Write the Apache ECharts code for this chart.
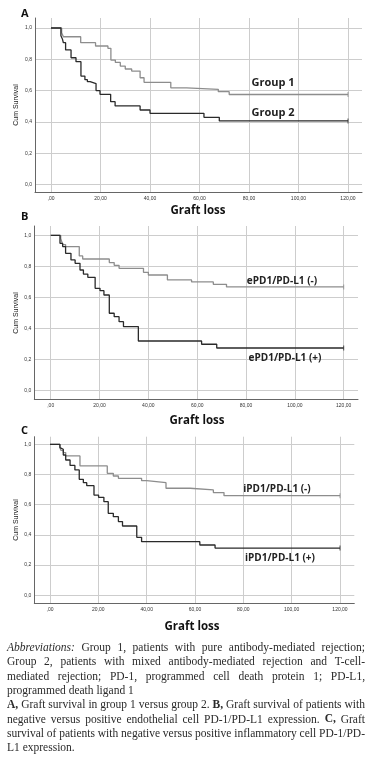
<!DOCTYPE html>
<html><head><meta charset="utf-8">
<script src="https://cdn.jsdelivr.net/npm/echarts@6/dist/echarts.min.js"></script>
<style>html,body{margin:0;padding:0;background:#fff}#c{width:374px;height:761px}</style>
</head><body><div id="c"></div>
<script>
// ---- tick labels ----
const xTicks = [0, 20, 40, 60, 80, 100, 120];
const xTickLabels = [',00', '20,00', '40,00', '60,00', '80,00', '100,00', '120,00'];
const yTicks = [0, 0.2, 0.4, 0.6, 0.8, 1.0];
const yTickLabels = ['0,0', '0,2', '0,4', '0,6', '0,8', '1,0'];

// ---- Panel A ----
const group1Time = [0, 4.3, 5, 12, 18, 23, 24.2, 26, 28, 30, 32.6, 36, 37.6, 48.4, 54.8, 67.6, 72, 120];
const group1Surv = [1, 0.97, 0.944, 0.906, 0.885, 0.87, 0.795, 0.78, 0.757, 0.738, 0.725, 0.682, 0.653, 0.618, 0.608, 0.593, 0.575, 0.575];
const group2Time = [0, 4, 4.6, 5, 5.9, 8.1, 10.1, 12.1, 13.7, 14.7, 15.8, 18.2, 19.8, 24.1, 25.9, 36, 40, 61.8, 68, 120];
const group2Surv = [1, 0.95, 0.93, 0.906, 0.86, 0.81, 0.785, 0.693, 0.67, 0.657, 0.645, 0.6, 0.576, 0.529, 0.502, 0.476, 0.455, 0.429, 0.406, 0.406];

// ---- Panel B ----
const eNegTime = [0, 4.1, 4.9, 6.1, 11.7, 13.1, 24, 26, 28, 38, 40, 47.8, 57.7, 66.6, 72, 120];
const eNegSurv = [1, 0.98, 0.94, 0.927, 0.867, 0.847, 0.824, 0.806, 0.787, 0.761, 0.744, 0.712, 0.699, 0.684, 0.667, 0.667];
const ePosTime = [0, 3.8, 4.9, 6.1, 8.3, 10, 12, 13.4, 15.2, 18.2, 20.2, 21.8, 24, 26, 28, 29.8, 35.9, 61.8, 68, 120];
const ePosSurv = [1, 0.948, 0.927, 0.884, 0.841, 0.819, 0.776, 0.75, 0.729, 0.658, 0.643, 0.615, 0.497, 0.475, 0.443, 0.411, 0.318, 0.297, 0.273, 0.273];

// ---- Panel C ----
const iNegTime = [0, 4.1, 4.5, 5.5, 6.5, 12.4, 23.7, 26.2, 28.3, 37.9, 40, 48, 58, 67.6, 72, 120];
const iNegSurv = [1, 0.978, 0.96, 0.945, 0.923, 0.857, 0.808, 0.79, 0.775, 0.759, 0.746, 0.709, 0.698, 0.68, 0.66, 0.66];
const iPosTime = [0, 4.1, 4.8, 5.5, 6.5, 8.3, 10.3, 12.1, 13.8, 15.2, 18.2, 20.1, 22.3, 24.1, 26.2, 28.3, 30, 35.9, 37.9, 62, 68.3, 120];
const iPosSurv = [1, 0.978, 0.967, 0.929, 0.896, 0.86, 0.83, 0.768, 0.746, 0.726, 0.664, 0.649, 0.62, 0.543, 0.521, 0.488, 0.459, 0.384, 0.355, 0.333, 0.313, 0.313];

const seriesNames = ['Group 1', 'Group 2', 'ePD1/PD-L1 (-)', 'ePD1/PD-L1 (+)', 'iPD1/PD-L1 (-)', 'iPD1/PD-L1 (+)'];
const panelLetters = ['A', 'B', 'C'];
const xTitle = 'Graft loss';
const yTitle = 'Cum Survival';

const captionLines = [
  ['_Abbreviations: Group 1, patients with pure antibody-mediated rejection;', true],
  ['Group 2, patients with mixed antibody-mediated rejection and T-cell-', true],
  ['mediated rejection; PD-1, programmed cell death protein 1; PD-L1,', true],
  ['programmed death ligand 1', false],
  ['^A, Graft survival in group 1 versus group 2. ^B, Graft survival of patients with', true],
  ['negative versus positive endothelial cell PD-1/PD-L1 expression. ^C, Graft', true],
  ['survival of patients with negative versus positive inflammatory cell PD-1/PD-', true],
  ['L1 expression.', false]
];

// ---- layout (pixels) ----
const panels = [
  {left: 35, right: 362, top: 18, bottom: 192, x0: 51, x120: 348, y1: 28, y0: 184.5},
  {left: 34.3, right: 358, top: 226, bottom: 399, x0: 50.7, x120: 343.7, y1: 235.3, y0: 390.3},
  {left: 34.3, right: 354.3, top: 436.7, bottom: 603.3, x0: 50, x120: 340, y1: 444.3, y0: 595.3}
];

const GRAY = '#8d8d8d', DARK = '#2a2a2a';
const grids = [], xAxes = [], yAxes = [];
panels.forEach((p, i) => {
  grids.push({left: p.left, top: p.top, width: p.right - p.left, height: p.bottom - p.top, containLabel: false});
  const xs = (p.x120 - p.x0) / 120;
  const ys = (p.y0 - p.y1);
  xAxes.push({
    type: 'value', gridIndex: i,
    min: -(p.x0 - p.left) / xs, max: 120 + (p.right - p.x120) / xs,
    axisLine: {show: true, onZero: false, lineStyle: {color: '#666', width: 1}},
    axisTick: {show: false, customValues: xTicks},
    axisLabel: {customValues: xTicks, formatter: v => xTickLabels[xTicks.indexOf(Math.round(v))],
      fontSize: 5, color: '#333', margin: 4, fontFamily: 'Liberation Sans'},
    splitLine: {show: true, lineStyle: {color: '#cdcdcd', width: 1}}
  });
  yAxes.push({
    type: 'value', gridIndex: i,
    min: -(p.bottom - p.y0) / ys, max: 1 + (p.y1 - p.top) / ys,
    axisLine: {show: true, onZero: false, lineStyle: {color: '#666', width: 1}},
    axisTick: {show: false, customValues: yTicks},
    axisLabel: {customValues: yTicks, formatter: v => yTickLabels[Math.round(v * 5)],
      fontSize: 5, color: '#333', margin: 3, fontFamily: 'Liberation Sans'},
    splitLine: {show: true, lineStyle: {color: '#cdcdcd', width: 1}}
  });
});

const curveDefs = [
  [group1Time, group1Surv, 0, GRAY], [group2Time, group2Surv, 0, DARK],
  [eNegTime, eNegSurv, 1, GRAY], [ePosTime, ePosSurv, 1, DARK],
  [iNegTime, iNegSurv, 2, GRAY], [iPosTime, iPosSurv, 2, DARK]
];
const series = [];
curveDefs.forEach((c, k) => {
  const [t, s, gi, col] = c;
  series.push({
    name: seriesNames[k], type: 'line', step: 'end', xAxisIndex: gi, yAxisIndex: gi,
    data: t.map((v, j) => [v, s[j]]), symbol: 'none', silent: true,
    lineStyle: {color: col, width: 1.3}
  });
  series.push({
    type: 'scatter', xAxisIndex: gi, yAxisIndex: gi, silent: true,
    data: [[t[t.length - 1], s[s.length - 1]]], symbol: 'rect', symbolSize: [1, 5],
    itemStyle: {color: col}
  });
});

// ---- text elements ----
const graphic = [];
const labelPos = [[273, 83], [273, 113], [282, 281], [285, 358], [277, 489], [280, 558]];
const labelSize = [11, 11, 10, 10, 10, 10];
seriesNames.forEach((n, k) => graphic.push({type: 'text', z: 100, x: labelPos[k][0], y: labelPos[k][1],
  style: {text: n, fill: '#222', font: 'bold ' + labelSize[k] + 'px "Open Sans"', textAlign: 'center', textVerticalAlign: 'middle'}}));
const letterPos = [[21, 14], [21, 217], [21, 431]];
const xTitlePos = [[198, 211], [197, 421], [192, 627]];
const yTitlePos = [[16, 105], [16, 313], [16, 520]];
panelLetters.forEach((L, i) => {
  graphic.push({type: 'text', z: 100, x: letterPos[i][0], y: letterPos[i][1],
    style: {text: L, fill: '#111', font: 'bold 11px "Open Sans"', textAlign: 'left', textVerticalAlign: 'middle'}});
  graphic.push({type: 'text', z: 100, x: xTitlePos[i][0], y: xTitlePos[i][1],
    style: {text: xTitle, fill: '#111', font: 'bold 11.5px "Open Sans"', textAlign: 'center', textVerticalAlign: 'middle'}});
  graphic.push({type: 'text', z: 100, x: yTitlePos[i][0], y: yTitlePos[i][1], rotation: Math.PI / 2,
    style: {text: yTitle, fill: '#222', font: '7px "Liberation Sans"', textAlign: 'center', textVerticalAlign: 'middle'}});
});

// caption with justification
const ctx = document.createElement('canvas').getContext('2d');
const CAP_SIZE = 11.5, CAP_LEFT = 7, CAP_RIGHT = 365, CAP_TOP = 648, CAP_LH = 14.3;
function capFont(w) {
  const st = w.startsWith('_') ? 'italic ' : '';
  const wt = w.startsWith('^') ? 'bold ' : '';
  return st + wt + CAP_SIZE + 'px "Liberation Serif"';
}
captionLines.forEach((ln, li) => {
  const [txt, just] = ln;
  const words = txt.split(' ');
  const items = words.map(w => {
    const font = capFont(w);
    const clean = w.replace(/^[_^]/, '');
    ctx.font = font;
    return {clean, font, w: ctx.measureText(clean).width};
  });
  ctx.font = CAP_SIZE + 'px "Liberation Serif"';
  const spaceW = ctx.measureText(' ').width;
  const total = items.reduce((a, b) => a + b.w, 0);
  const gap = just ? (CAP_RIGHT - CAP_LEFT - total) / (items.length - 1) : spaceW;
  let x = CAP_LEFT;
  const y = CAP_TOP + li * CAP_LH;
  items.forEach(it => {
    graphic.push({type: 'text', z: 100, x: x, y: y,
      style: {text: it.clean, fill: '#2a2a2a', font: it.font, textAlign: 'left', textVerticalAlign: 'middle'}});
    x += it.w + gap;
  });
});

const chart = echarts.init(document.getElementById('c'), null, {renderer: 'canvas'});
chart.setOption({
  animation: false, backgroundColor: '#fff',
  grid: grids, xAxis: xAxes, yAxis: yAxes, series: series, graphic: graphic
});
</script></body></html>
